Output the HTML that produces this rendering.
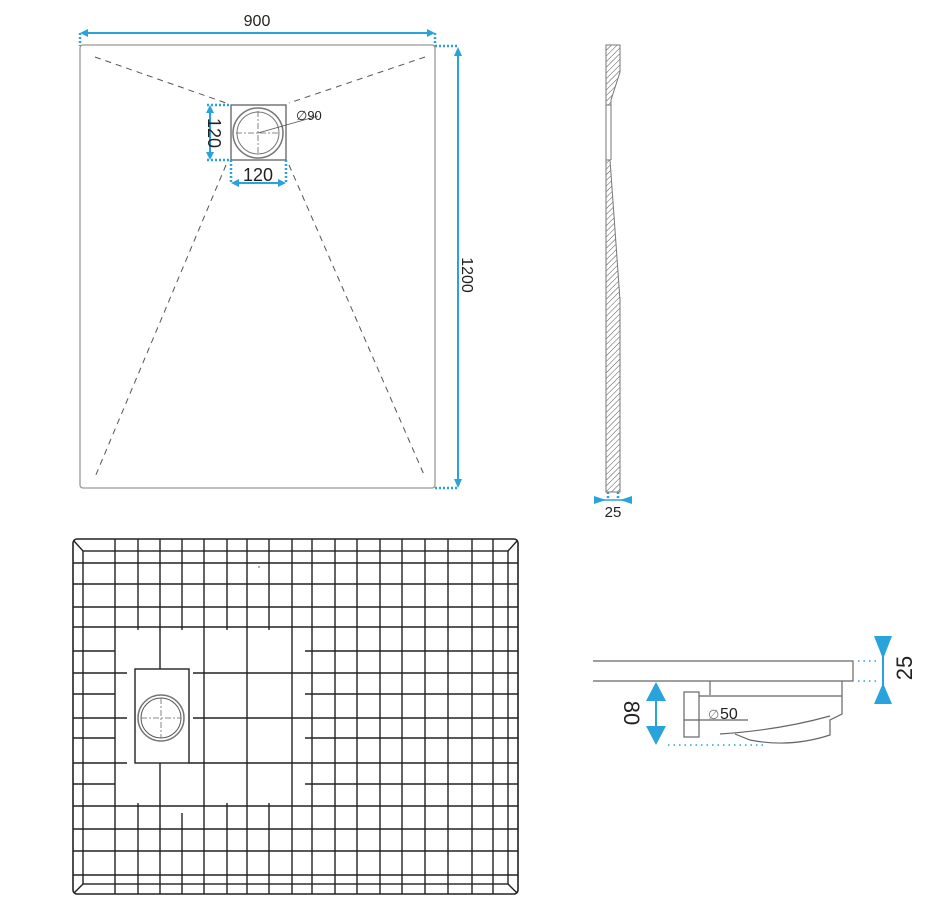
<!DOCTYPE html>
<html><head><meta charset="utf-8"><style>html,body{margin:0;padding:0;background:#fff}svg{display:block}</style></head>
<body>
<svg width="943" height="901" viewBox="0 0 943 901" xmlns="http://www.w3.org/2000/svg" font-family="Liberation Sans, sans-serif">
<defs>
<pattern id="h" width="4" height="4" patternUnits="userSpaceOnUse" patternTransform="rotate(45)"><line x1="0" y1="0" x2="0" y2="4" stroke="#555" stroke-width="1"/></pattern>
</defs>
<!-- top plan -->
<rect x="80" y="45" width="355" height="443" rx="3" fill="none" stroke="#999" stroke-width="1.3"/>
<g stroke="#555" stroke-dasharray="6,5" stroke-width="1" fill="none">
<line x1="95" y1="57" x2="226" y2="103"/><line x1="425" y1="57" x2="289" y2="103"/>
<line x1="226" y1="165" x2="95" y2="477"/><line x1="289" y1="165" x2="425" y2="477"/>
</g>
<rect x="231" y="105" width="55" height="55" fill="none" stroke="#555" stroke-width="1.2"/>
<circle cx="258" cy="133" r="25" fill="none" stroke="#777" stroke-width="1.5"/>
<circle cx="258" cy="133" r="21" fill="none" stroke="#777" stroke-width="1"/>
<g stroke="#666" stroke-dasharray="6,2,2,2" stroke-width="0.8"><line x1="236" y1="133" x2="280" y2="133"/><line x1="258" y1="111" x2="258" y2="155"/></g>
<line x1="258" y1="133" x2="318" y2="116" stroke="#555" stroke-width="0.8"/>
<text x="296" y="120" font-size="13" fill="#222">∅90</text>
<!-- dims blue -->
<g stroke="#29a3dc" stroke-width="2" fill="none">
<line x1="84" y1="33" x2="431" y2="33"/>
<line x1="458" y1="50" x2="458" y2="484"/>
<line x1="210" y1="109" x2="210" y2="156"/>
<line x1="235" y1="183" x2="282" y2="183"/>
<line x1="656" y1="688" x2="656" y2="740"/>
<line x1="883" y1="638" x2="883" y2="702"/>
</g>
<g stroke="#29a3dc" stroke-width="2.5" stroke-dasharray="2,2" fill="none">
<line x1="80" y1="33" x2="80" y2="46"/><line x1="435" y1="33" x2="435" y2="46"/>
<line x1="435" y1="46" x2="458" y2="46"/><line x1="435" y1="488" x2="458" y2="488"/>
<line x1="207" y1="105" x2="231" y2="105"/><line x1="207" y1="160" x2="231" y2="160"/>
<line x1="231" y1="160" x2="231" y2="184"/><line x1="286" y1="160" x2="286" y2="184"/>
<line x1="608" y1="492" x2="608" y2="500"/><line x1="618" y1="492" x2="618" y2="500"/>
</g>
<g stroke="#29a3dc" stroke-width="1.5" stroke-dasharray="1.5,4" fill="none">
<line x1="668" y1="745" x2="763" y2="745"/>
<line x1="858" y1="661" x2="880" y2="661"/><line x1="858" y1="681" x2="880" y2="681"/>
</g>
<g fill="#29a3dc">
<polygon points="80,33 88,29 88,37"/><polygon points="435,33 427,29 427,37"/>
<polygon points="458,47 454,56 462,56"/><polygon points="458,488 454,479 462,479"/>
<polygon points="210,105 206,113 214,113"/><polygon points="210,160 206,152 214,152"/>
<polygon points="231,183 239,179 239,187"/><polygon points="286,183 278,179 278,187"/>
<polygon points="594,496 606,500 594,504"/><polygon points="632,496 620,500 632,504"/>
<line x1="594" y1="500" x2="632" y2="500" stroke="#29a3dc" stroke-width="1.5"/>
<polygon points="646,701 656,682 666,701"/><polygon points="646,726 656,745 666,726"/>
<polygon points="874,636 892,636 883,659"/><polygon points="874,704 892,704 883,683"/>
</g>
<text x="257" y="26" font-size="16" text-anchor="middle" fill="#222">900</text>
<text transform="translate(462,275) rotate(90)" font-size="16" text-anchor="middle" fill="#222">1200</text>
<text transform="translate(208,133) rotate(90)" font-size="18" text-anchor="middle" fill="#222">120</text>
<text x="258" y="181" font-size="18" text-anchor="middle" fill="#222">120</text>
<!-- side profile -->
<path d="M606,45 L620,45 L620,72 L611,100 L611,105 L606,105 Z" fill="url(#h)" stroke="#777" stroke-width="1"/>
<path d="M606,105 L606,160 M611,105 L611,160" stroke="#777" stroke-width="1"/>
<path d="M606,160 L610,160 L620,300 L620,492 L606,492 Z" fill="url(#h)" stroke="#777" stroke-width="1"/>
<text x="613" y="517" font-size="15" text-anchor="middle" fill="#222">25</text>
<!-- grid -->
<rect x="73" y="539" width="445" height="355" rx="4" fill="none" stroke="#222" stroke-width="1.6"/>
<rect x="83" y="551" width="425" height="333" fill="none" stroke="#222" stroke-width="1.4"/>
<g stroke="#222" stroke-width="1.4" fill="none">
<line x1="74" y1="541" x2="83" y2="551"/><line x1="517" y1="541" x2="508" y2="551"/>
<line x1="74" y1="893" x2="83" y2="884"/><line x1="517" y1="893" x2="508" y2="884"/>
<path d="M115,539V894 M204,539V894 M247,539V894 M292,539V894 M312,539V894 M335,539V894 M357,539V894 M380,539V894 M402,539V894 M425,539V894 M448,539V894 M472,539V894 M493,539V894"/>
<path d="M138,539V630 M138,803V894 M182,539V630 M182,813V894 M227,539V630 M227,803V894 M269,539V630 M269,803V894 M160,539V669 M160,763V894"/>
<path d="M73,563H518 M73,584H518 M73,607H518 M73,627H518 M73,806H518 M73,829H518 M73,851H518 M73,875H518"/>
<path d="M73,651H115 M305,651H518 M73,694H115 M305,694H518 M73,738H115 M305,738H518 M73,784H115 M305,784H518"/>
<path d="M73,673H127 M193,673H518 M73,718H127 M193,718H518 M73,763H127 M189,763H518"/>
<rect x="135" y="669" width="54" height="94"/>
</g>
<circle cx="161" cy="718" r="23" fill="none" stroke="#777" stroke-width="1.5"/>
<circle cx="161" cy="718" r="20" fill="none" stroke="#555" stroke-width="1"/>
<g stroke="#666" stroke-dasharray="6,2,2,2" stroke-width="0.8"><line x1="141" y1="718" x2="181" y2="718"/><line x1="161" y1="698" x2="161" y2="738"/></g>
<!-- section -->
<g stroke="#666" stroke-width="1.2" fill="none">
<path d="M593,661 H853 V681 H593"/>
<path d="M710,681 V695 M699,696 H842 M842,681 V714 L830,720 L830,735 Q790,748 750,740 L735,734 M684,720 H748 M720,734 Q780,730 830,716"/>
<rect x="684" y="692" width="15" height="45"/>
</g>
<text x="708" y="719" font-size="13" fill="#777">∅</text>
<text x="720" y="719" font-size="16" fill="#222">50</text>
<text transform="translate(624,713) rotate(90)" font-size="22" text-anchor="middle" fill="#222">80</text>
<text transform="translate(912,668) rotate(-90)" font-size="22" text-anchor="middle" fill="#222">25</text>
<circle cx="259" cy="567" r="0.7" fill="#333"/>
</svg>
</body></html>
